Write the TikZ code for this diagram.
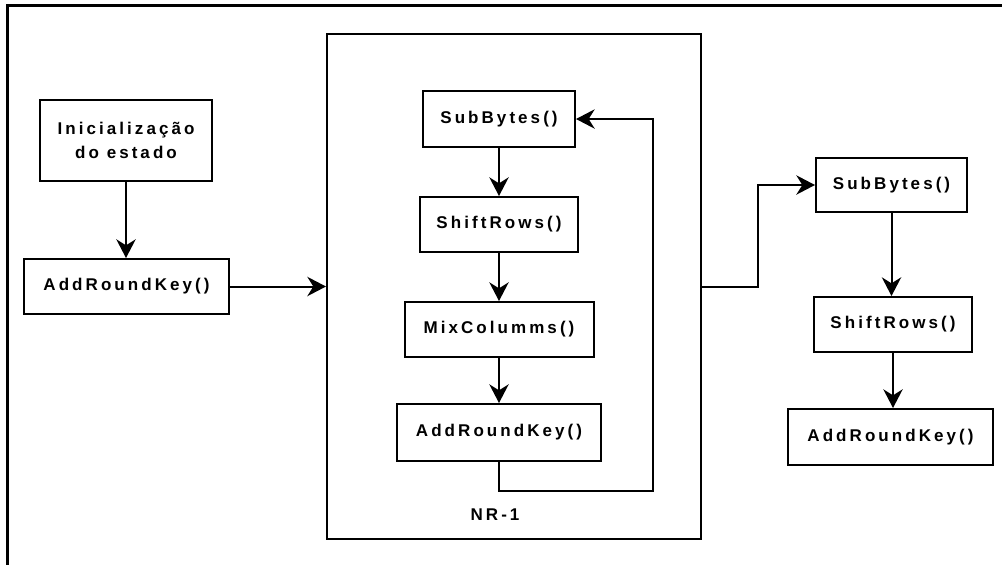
\documentclass[tikz,border=0pt]{standalone}
\usepackage{fontspec}
\setmainfont{Liberation Sans}
\newfontfamily\lblfont{Liberation Sans}[LetterSpace=18]
\usetikzlibrary{arrows.meta}
\tikzset{
  lbl/.style={font=\lblfont\bfseries\fontsize{12.75pt}{18pt}\selectfont, align=center, text=black},
  box/.style={lbl, draw, line width=1.5pt, inner sep=0pt},
  conn/.style={line width=1.5pt, -{Stealth[length=14pt,width=14.5pt,inset=4.5pt]}},
  plainline/.style={line width=1.5pt},
  frame/.style={line width=2.25pt},
}
\begin{document}
\begin{tikzpicture}[x=0.75pt,y=-0.75pt]
\useasboundingbox (0,0) rectangle (1002,565);
% outer frame (top and left only)
\coordinate (fTR) at (1002,5.5);
\coordinate (fTL) at (7.5,5.5);
\coordinate (fBL) at (7.5,565);
\draw[frame] (fTR) -- (fTL) -- (fBL);

% left column
\node[box, minimum width=129pt, minimum height=60.75pt] (init) at (126,140.5) {Inicialização\\do estado};
\node[box, minimum width=153.75pt, minimum height=41.25pt] (ark1) at (126.5,286.5) {AddRoundKey()};

% NR box
\node[draw, line width=1.5pt, minimum width=280.5pt, minimum height=378.75pt, inner sep=0pt] (nr) at (514,286.5) {};
\node[box, minimum width=114pt, minimum height=42pt] (sb) at (499,119) {SubBytes()};
\node[box, minimum width=118.5pt, minimum height=41.25pt] (sr) at (499,224.5) {ShiftRows()};
\node[box, minimum width=141.75pt, minimum height=41.25pt] (mc) at (499,329.5) {MixColumms()};
\node[box, minimum width=153pt, minimum height=42.75pt] (ark2) at (499,432.5) {AddRoundKey()};
\node[lbl] (nrl) at (495,515) {NR-1};

% right column
\node[box, minimum width=113.25pt, minimum height=40.5pt] (sb2) at (891.5,185) {SubBytes()};
\node[box, minimum width=118.5pt, minimum height=41.25pt] (sr2) at (893,324.5) {ShiftRows()};
\node[box, minimum width=153.75pt, minimum height=42pt] (ark3) at (890.5,437) {AddRoundKey()};

% connectors
\draw[conn] (init.south) -- (init.south |- ark1.north);
\draw[conn] (ark1.east) -- (ark1.east -| nr.west);
\draw[conn] (sb.south) -- (sb.south |- sr.north);
\draw[conn] (sr.south) -- (sr.south |- mc.north);
\draw[conn] (mc.south) -- (mc.south |- ark2.north);
\coordinate (loopR) at (653,491);
\draw[conn] (ark2.south) |- (loopR) |- (sb.east);
\coordinate (jog) at (758,286.5);
\draw[conn] (nr.east) -- (jog) |- (sb2.west);
\draw[conn] (sb2.south) -- (sb2.south |- sr2.north);
\draw[conn] (sr2.south) -- (sr2.south |- ark3.north);
\end{tikzpicture}
\end{document}
